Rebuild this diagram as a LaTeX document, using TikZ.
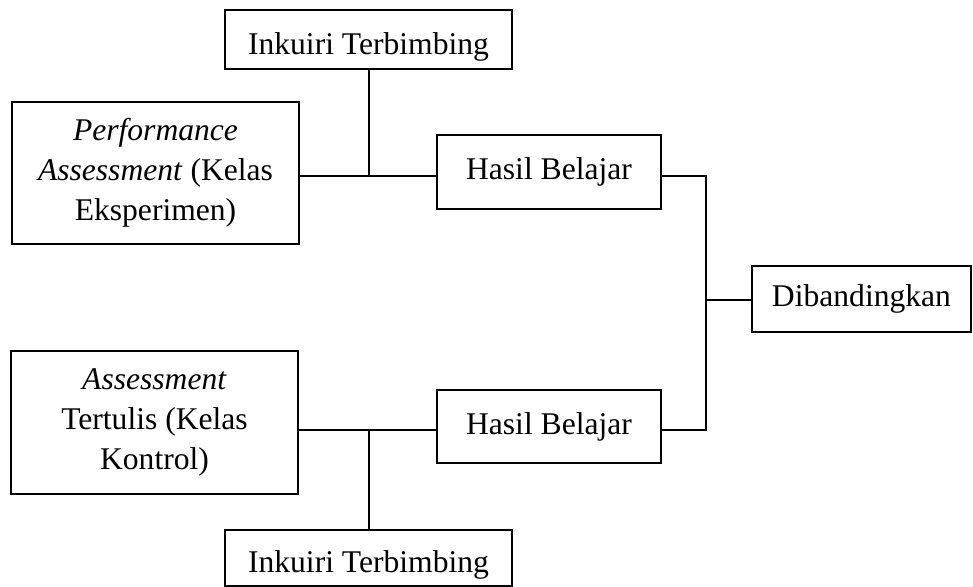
\documentclass[tikz,border=0pt]{standalone}
\usepackage{fontspec}
\setmainfont{Liberation Serif}
\newcommand\lowtext[2]{\raisebox{-#1}[\height][\depth]{#2}}
\begin{document}
\begin{tikzpicture}[x=0.5pt,y=-0.5pt,
  box/.style={draw,line width=1pt,inner sep=0pt,align=center,
    font=\fontsize{15.8}{20}\selectfont},
  conn/.style={line width=1pt}]
\useasboundingbox (0,0) rectangle (973,587);
\node[box,minimum width=143.5pt,minimum height=29.5pt] (inkT) at (368.5,39.5) {\lowtext{3.5pt}{Inkuiri Terbimbing}};
\node[box,minimum width=143.5pt,minimum height=71pt] (perf) at (155.5,173) {\textit{Performance}\\\textit{Assessment} (Kelas\\Eksperimen)};
\node[box,minimum width=112pt,minimum height=37pt] (hasT) at (549,172) {Hasil Belajar};
\node[box,minimum width=109.5pt,minimum height=33pt] (dib) at (861.5,299) {Dibandingkan};
\node[box,minimum width=143.5pt,minimum height=71.5pt] (ases) at (154.5,422.5) {\textit{Assessment}\\Tertulis (Kelas\\Kontrol)};
\node[box,minimum width=112pt,minimum height=36.5pt] (hasB) at (549,426.5) {Hasil Belajar};
\node[box,minimum width=143.5pt,minimum height=28pt] (inkB) at (368.5,558) {\lowtext{3.5pt}{Inkuiri Terbimbing}};
\coordinate (j1) at (368.5,176);
\coordinate (j2) at (368.5,430);
\coordinate (rt) at (706,176);
\coordinate (rb) at (706,430);
\coordinate (rm) at (706,300);
\draw[conn] (perf.east |- j1) -- (hasT.west |- j1);
\draw[conn] (inkT.south) -- (j1);
\draw[conn] (ases.east |- j2) -- (hasB.west |- j2);
\draw[conn] (inkB.north) -- (j2);
\draw[conn] (hasT.east |- rt) -- (rt) -- (rb) -- (hasB.east |- rb);
\draw[conn] (rm) -- (dib.west |- rm);
\end{tikzpicture}
\end{document}
